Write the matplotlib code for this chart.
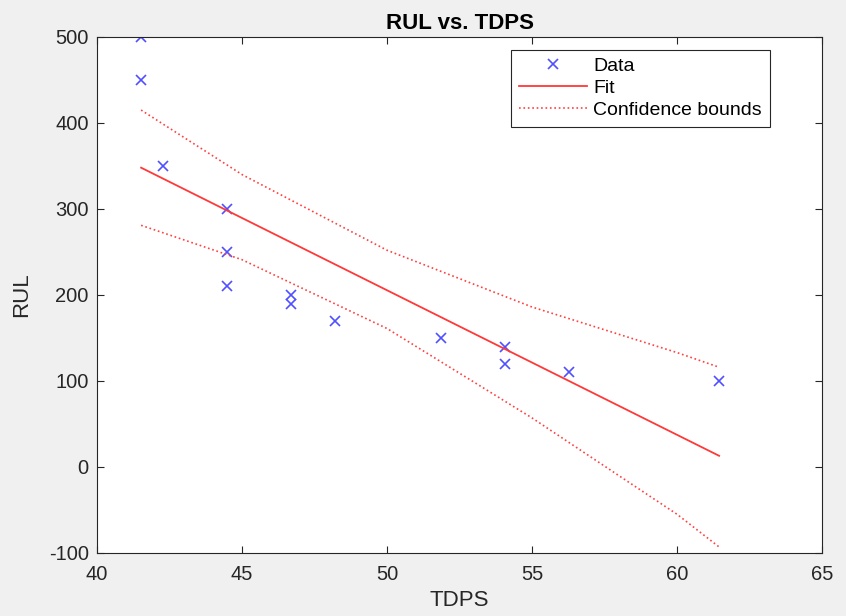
import matplotlib
matplotlib.use("Agg")
import matplotlib.pyplot as plt

plt.rcParams['font.family'] = ['Liberation Sans', 'DejaVu Sans']
plt.rcParams['axes.unicode_minus'] = False

# data points
tdps = [41.52, 41.52, 42.28, 44.48, 44.48, 44.48, 46.69, 46.69, 48.2, 51.86, 54.07, 54.07, 56.28, 61.45]
rul = [500, 450, 350, 300, 250, 210, 200, 190, 170, 150, 140, 120, 110, 100]

# fitted line end points
fit_x = [41.52, 61.45]
fit_y = [348, 13]

# confidence bounds
bound_x = [41.52, 45, 50, 55, 60, 61.45]
upper = [415, 340, 252, 186, 133, 116]
lower = [281, 241, 161, 57, -55, -93]

fig = plt.figure(figsize=(8.46, 6.16), dpi=100, facecolor='#f0f0f0')
ax = fig.add_axes([0.1147, 0.1023, 0.857, 0.8377])
ax.set_facecolor('white')

ax.plot(tdps, rul, 'x', color='#5050ff', markersize=7, markeredgewidth=1.2, label='Data')
ax.plot(fit_x, fit_y, '-', color='#ff3838', linewidth=1.3, label='Fit')
ax.plot(bound_x, upper, ':', color='#ff4040', linewidth=1.2, label='Confidence bounds')
ax.plot(bound_x, lower, ':', color='#ff4040', linewidth=1.2)

ax.set_xlim(40, 65)
ax.set_ylim(-100, 500)
ax.set_xticks([40, 45, 50, 55, 60, 65])
ax.set_yticks([-100, 0, 100, 200, 300, 400, 500])
ax.tick_params(direction='in', top=True, right=True, length=5, width=0.8,
               colors='#262626', labelsize=14.5)
ax.tick_params(axis='y', pad=6)
ax.tick_params(axis='x', pad=9)
for s in ax.spines.values():
    s.set_color('#262626')
    s.set_linewidth(0.8)

ax.set_title('RUL vs. TDPS', fontsize=16, fontweight='bold', pad=6)
ax.set_xlabel('TDPS', fontsize=16, color='#262626', labelpad=4)
ax.set_ylabel('RUL', fontsize=16, color='#262626', labelpad=12)

leg = ax.legend(loc='upper right', bbox_to_anchor=(0.928, 0.975), fontsize=14,
                fancybox=False, edgecolor='#262626', framealpha=1,
                borderaxespad=0, handlelength=3.5, handletextpad=0.35,
                labelspacing=0.22, borderpad=0.4)
leg.get_frame().set_linewidth(0.8)

plt.savefig('out.png', dpi=100, facecolor=fig.get_facecolor())
